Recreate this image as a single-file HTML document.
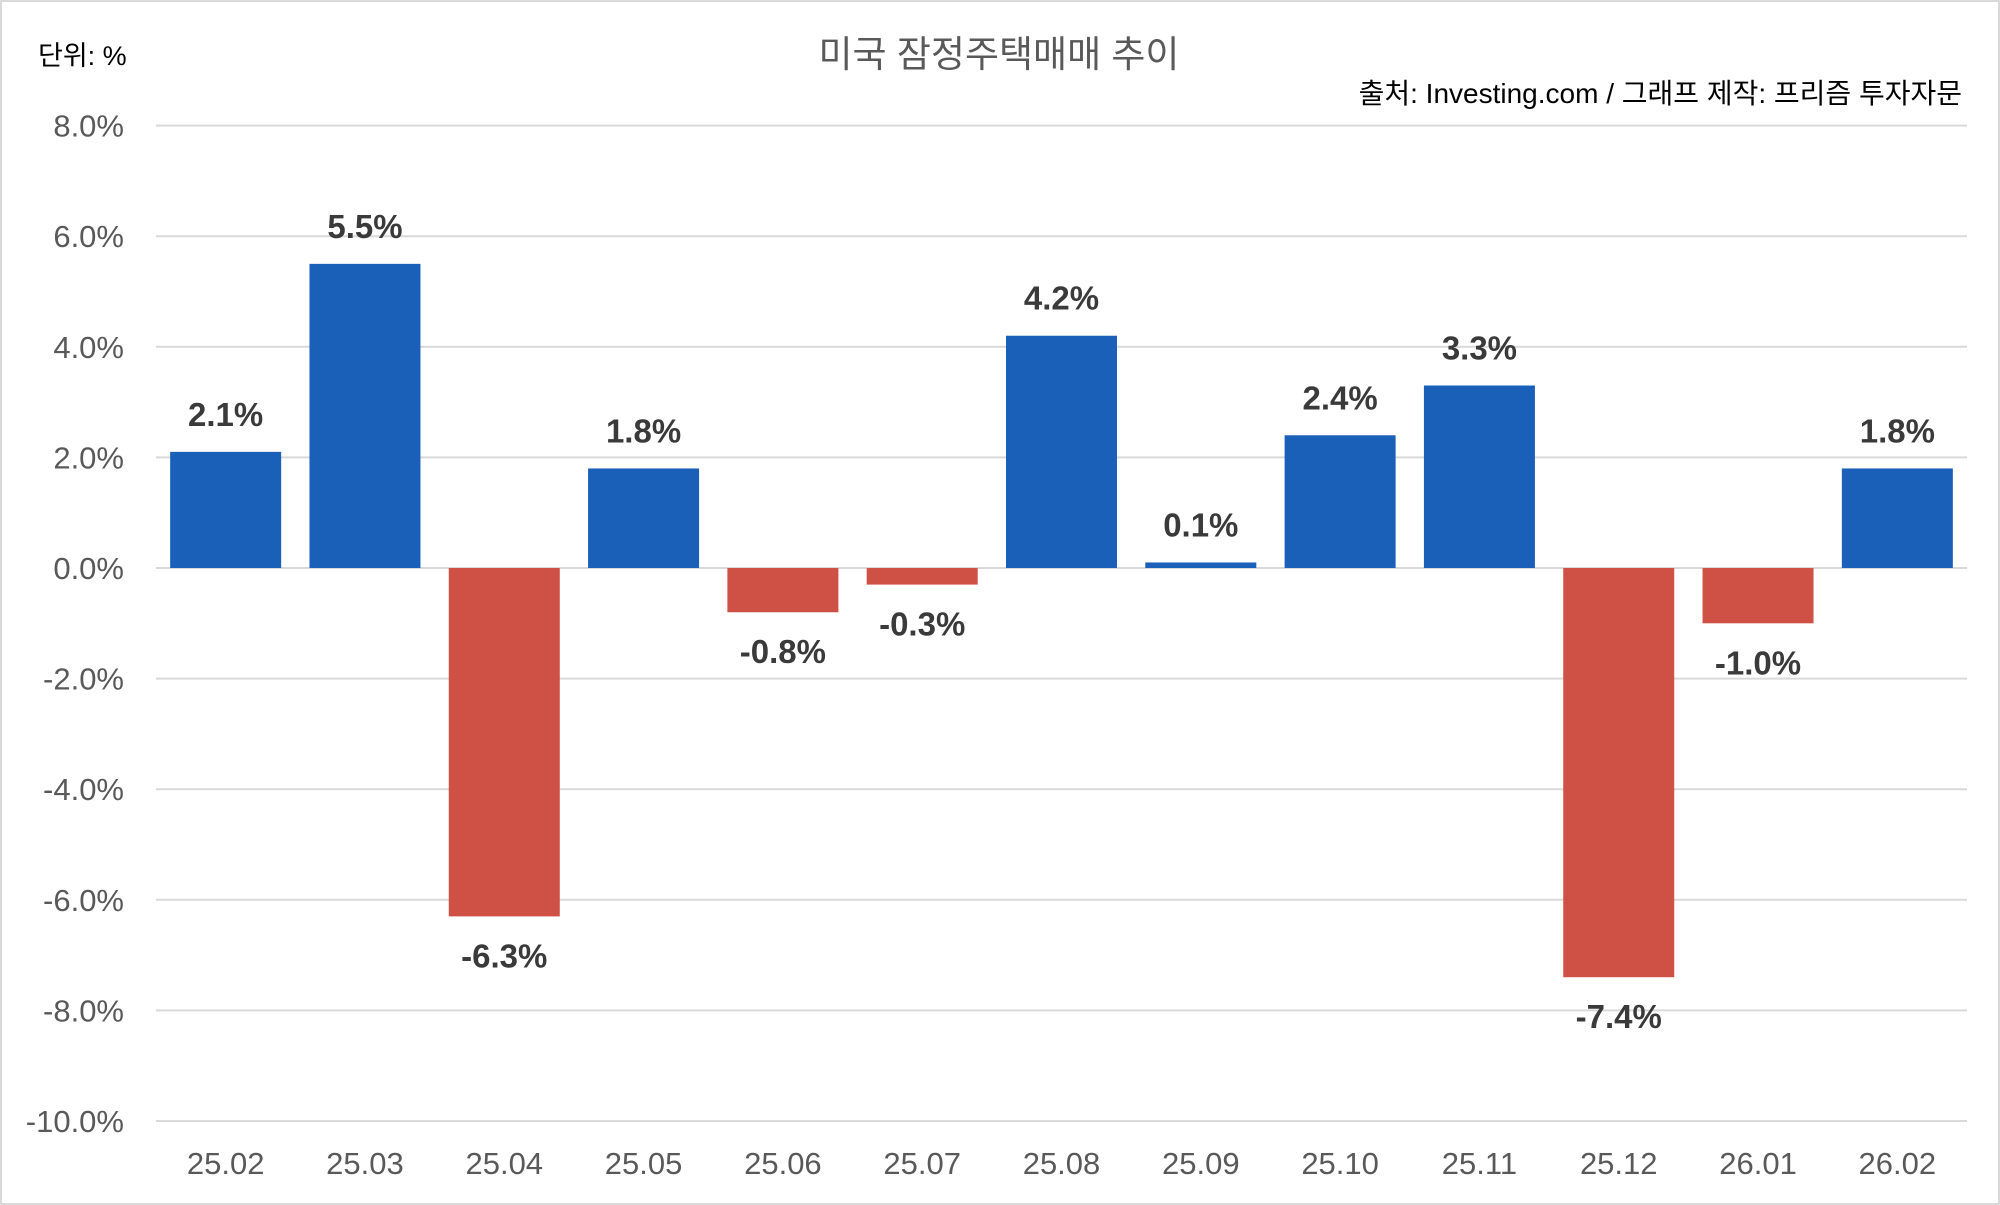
<!DOCTYPE html>
<html><head><meta charset="utf-8"><style>
body{margin:0;background:#fff;}
svg{display:block;font-family:"Liberation Sans","Noto Sans CJK KR",sans-serif;}
</style></head><body>
<svg id="c" width="2000" height="1205">
<rect x="1" y="1" width="1998" height="1203" fill="#fff" stroke="#d9d9d9" stroke-width="2"/>
<text x="999" y="67" text-anchor="middle" font-size="37" fill="#595959">미국 잠정주택매매 추이</text>
<text x="38" y="65" font-size="27" fill="#000">단위: %</text>
<text x="1962" y="103" text-anchor="end" font-size="28" fill="#000">출처: Investing.com / 그래프 제작: 프리즘 투자자문</text>
<g id="grid"></g><g id="bars"></g>
</svg>
<script>
const categories=["25.02","25.03","25.04","25.05","25.06","25.07","25.08","25.09","25.10","25.11","25.12","26.01","26.02"];
const values=[2.1,5.5,-6.3,1.8,-0.8,-0.3,4.2,0.1,2.4,3.3,-7.4,-1.0,1.8];
const yTicks=[8,6,4,2,0,-2,-4,-6,-8,-10];
const ns="http://www.w3.org/2000/svg";
const X0=156,X1=1967,Y0=568,PER=55.3;
const y=v=>Y0-v*PER;
const step=(X1-X0)/categories.length;
const xc=i=>X0+step*(i+0.5);
const grid=document.getElementById('grid'),bars=document.getElementById('bars');
function mk(tag,attrs,parent){const e=document.createElementNS(ns,tag);for(const k in attrs)e.setAttribute(k,attrs[k]);parent.appendChild(e);return e;}
yTicks.forEach(t=>{
 const l=mk('line',{x1:X0,x2:X1,y1:y(t),y2:y(t),stroke:'#d9d9d9','stroke-width':2},grid);
 
 
 const tx=mk('text',{x:124,y:y(t)+11,'text-anchor':'end','font-size':31,fill:'#595959'},grid);
 tx.textContent=t.toFixed(1)+'%';
 
 
});
const bw=111;
values.forEach((v,i)=>{
 const top=Math.min(y(v),y(0)),h=Math.abs(y(v)-y(0));
 const r=mk('rect',{x:xc(i)-bw/2,y:top,width:bw,height:Math.max(h,1),fill:v>=0?'#1a5fb8':'#cf5044'},bars);
 
 
 const ly=v>=0?y(v)-26:y(v)+51;
 const t=mk('text',{x:xc(i),y:ly,'text-anchor':'middle','font-size':33,'font-weight':'bold',fill:'#3a3a3a'},bars);
 t.textContent=v.toFixed(1)+'%';
 
 
 const c=mk('text',{x:xc(i),y:1174,'text-anchor':'middle','font-size':31,fill:'#595959'},bars);
 c.textContent=categories[i];
 
 
});
</script>
</body></html>
